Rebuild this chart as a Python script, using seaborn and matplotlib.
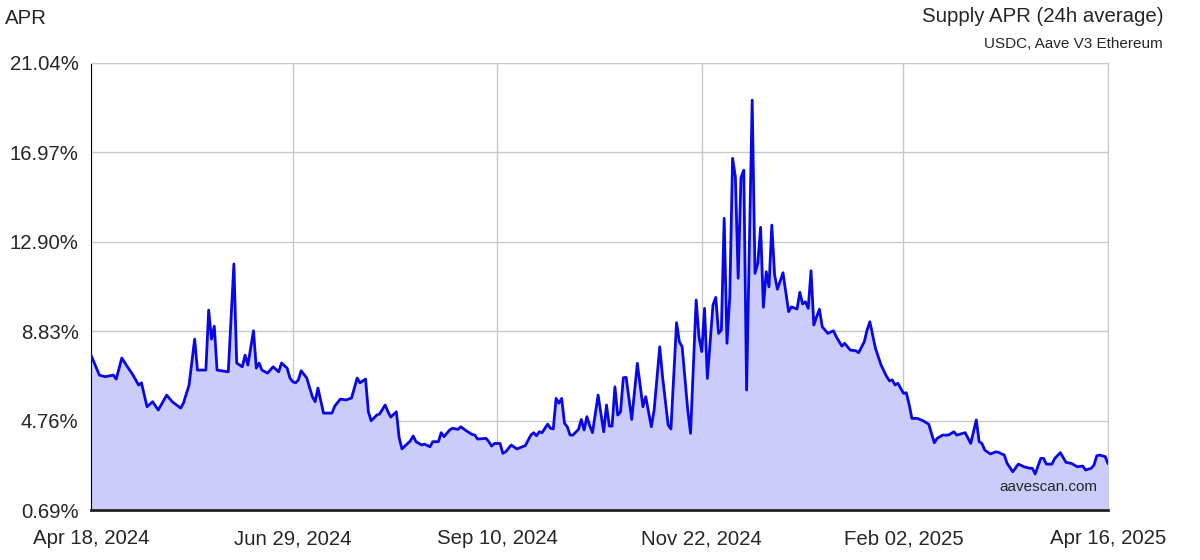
import pandas as pd
import matplotlib
matplotlib.use("Agg")
import matplotlib.pyplot as plt
import seaborn as sns

# days since Apr 18, 2024 and supply APR (%)
days = [
    0, 1, 3, 5, 8, 9, 11, 13, 15, 17, 18, 20, 22, 24, 27, 29, 32, 33, 35, 37,
    38, 41, 42, 43, 44, 45, 49, 51, 52, 54, 55, 56, 58, 59, 60, 61, 63, 65, 67, 68,
    70, 71, 72, 73, 74, 75, 77, 79, 80, 81, 83, 86, 87, 89, 91, 93, 95, 96, 98, 99,
    100, 102, 103, 105, 106, 107, 109, 110, 111, 113, 114, 115, 116, 118, 119, 121, 122, 124, 125, 126,
    128, 129, 131, 132, 134, 136, 137, 138, 141, 142, 143, 144, 146, 147, 148, 150, 152, 155, 157, 158,
    159, 160, 161, 163, 164, 165, 166, 167, 168, 169, 170, 171, 172, 174, 175, 176, 177, 178, 179, 181,
    183, 184, 185, 186, 187, 188, 189, 190, 191, 193, 195, 197, 198, 200, 201, 203, 204, 206, 207, 209,
    210, 211, 213, 214, 216, 217, 218, 219, 220, 222, 223, 224, 225, 226, 227, 228, 229, 230, 231, 232,
    233, 234, 236, 237, 238, 239, 240, 241, 242, 243, 244, 245, 247, 249, 250, 252, 253, 254, 255, 256,
    257, 258, 259, 260, 261, 263, 265, 266, 268, 269, 271, 273, 274, 276, 277, 278, 280, 282, 284, 285,
    286, 287, 288, 290, 291, 292, 293, 295, 297, 299, 301, 302, 304, 306, 308, 309, 312, 314, 316, 317,
    318, 319, 321, 323, 324, 326, 327, 329, 331, 333, 335, 336, 337, 339, 340, 341, 343, 344, 346, 348,
    350, 352, 354, 355, 357, 358, 359, 360, 362, 363,
]
apr = [
    7.74, 7.44, 6.83, 6.76, 6.83, 6.65, 7.61, 7.21, 6.83, 6.38, 6.48, 5.39, 5.62, 5.24, 5.92, 5.62, 5.33, 5.56, 6.38, 8.47,
    7.06, 7.06, 9.79, 8.47, 9.06, 7.06, 6.98, 11.89, 7.38, 7.21, 7.74, 7.29, 8.85, 7.15, 7.38, 7.06, 6.92, 7.21, 6.98, 7.38,
    7.15, 6.70, 6.53, 6.48, 6.61, 7.03, 6.70, 5.85, 5.62, 6.24, 5.10, 5.10, 5.42, 5.74, 5.70, 5.79, 6.70, 6.48, 6.65, 5.16,
    4.75, 5.01, 5.06, 5.47, 5.16, 4.92, 5.16, 3.97, 3.47, 3.72, 3.84, 4.06, 3.80, 3.65, 3.69, 3.57, 3.80, 3.80, 4.21, 4.03,
    4.33, 4.41, 4.36, 4.48, 4.29, 4.13, 4.10, 3.92, 3.95, 3.80, 3.60, 3.72, 3.72, 3.27, 3.34, 3.65, 3.47, 3.62, 4.10, 4.21,
    4.07, 4.25, 4.21, 4.60, 4.41, 4.38, 5.77, 5.55, 5.77, 4.64, 4.48, 4.10, 4.10, 4.36, 4.81, 4.33, 4.94, 4.53, 4.21, 5.92,
    4.25, 5.47, 4.51, 4.51, 6.30, 5.01, 5.16, 6.71, 6.73, 4.81, 7.37, 5.39, 5.85, 4.48, 5.24, 8.12, 6.76, 4.56, 4.38, 9.22,
    8.35, 8.12, 5.24, 4.18, 10.25, 8.58, 7.90, 9.87, 6.68, 10.02, 10.37, 8.73, 8.88, 13.97, 8.28, 10.40, 16.70, 15.86, 11.24, 15.83,
    16.16, 6.15, 19.35, 11.46, 11.92, 13.56, 9.92, 11.54, 10.85, 13.66, 11.39, 10.74, 11.49, 9.72, 9.94, 9.84, 10.60, 10.07, 10.17, 9.87,
    11.58, 9.11, 9.49, 9.83, 9.03, 8.73, 8.85, 8.58, 8.15, 8.28, 7.97, 7.94, 7.85, 8.35, 8.88, 9.26, 8.05, 7.29, 6.76, 6.57,
    6.61, 6.38, 6.46, 6.00, 6.03, 5.50, 4.86, 4.86, 4.75, 4.60, 3.75, 3.95, 4.10, 4.10, 4.25, 4.10, 4.21, 3.72, 4.79, 3.80,
    3.72, 3.42, 3.24, 3.34, 3.31, 3.19, 2.81, 2.43, 2.78, 2.66, 2.59, 2.59, 2.33, 3.04, 3.04, 2.78, 2.78, 3.04, 3.30, 2.86,
    2.81, 2.66, 2.69, 2.51, 2.59, 2.74, 3.16, 3.19, 3.12, 2.80,
]

y_ticks = [0.69, 4.76, 8.83, 12.90, 16.97, 21.04]
x_tick_dates = ["2024-04-18", "2024-06-29", "2024-09-10", "2024-11-22", "2025-02-02", "2025-04-16"]


def main():
    start = pd.Timestamp("2024-04-18")
    df = pd.DataFrame({"date": start + pd.to_timedelta(days, unit="D"), "apr": apr})

    sns.set_style("white")
    plt.rcParams["font.family"] = ["Liberation Sans", "DejaVu Sans"]

    fig = plt.figure(figsize=(12, 5.6), dpi=100)
    ax = fig.add_axes([91 / 1200, 1 - 510 / 560, 1017 / 1200, 447 / 560])

    ax.fill_between(df["date"], y_ticks[0], df["apr"], color="#ccccfa", lw=0, zorder=1)
    sns.lineplot(data=df, x="date", y="apr", ax=ax, color="#0707e8", lw=2.0, zorder=3)

    xt = pd.to_datetime(x_tick_dates)
    ax.set_xlim(xt[0], xt[-1])
    ax.set_ylim(y_ticks[0], y_ticks[-1])
    ax.set_xticks(xt)
    ax.set_xticklabels([d.strftime("%b %d, %Y") for d in xt], fontsize=14.7)
    ax.set_yticks(y_ticks)
    ax.set_yticklabels(["%.2f%%" % v for v in y_ticks], fontsize=14.7)

    ax.grid(True, color="#c8c8c8", lw=1)
    ax.set_axisbelow(True)
    for side in ["top", "right"]:
        ax.spines[side].set_color("#c8c8c8")
    ax.spines["left"].set_color("black")
    ax.spines["bottom"].set_color("#222222")
    ax.spines["bottom"].set_linewidth(2)
    ax.tick_params(axis="both", length=6, width=1, color="black", direction="out", pad=3)
    ax.tick_params(axis="x", pad=8)
    ax.set_xlabel("")
    ax.set_ylabel("")

    fig.text(5 / 1200, 1 - 18 / 560, "APR", fontsize=14.7, ha="left", va="center")
    fig.text(1163 / 1200, 1 - 17 / 560, "Supply APR (24h average)", fontsize=14.7, ha="right", va="center")
    fig.text(1163 / 1200, 1 - 44 / 560, "USDC, Aave V3 Ethereum", fontsize=11, ha="right", va="center")
    ax.text(0.99, 0.035, "aavescan.com", transform=ax.transAxes, fontsize=11, ha="right", va="bottom")

    fig.savefig("out.png", dpi=100)
    plt.close(fig)


if __name__ == "__main__":
    main()
